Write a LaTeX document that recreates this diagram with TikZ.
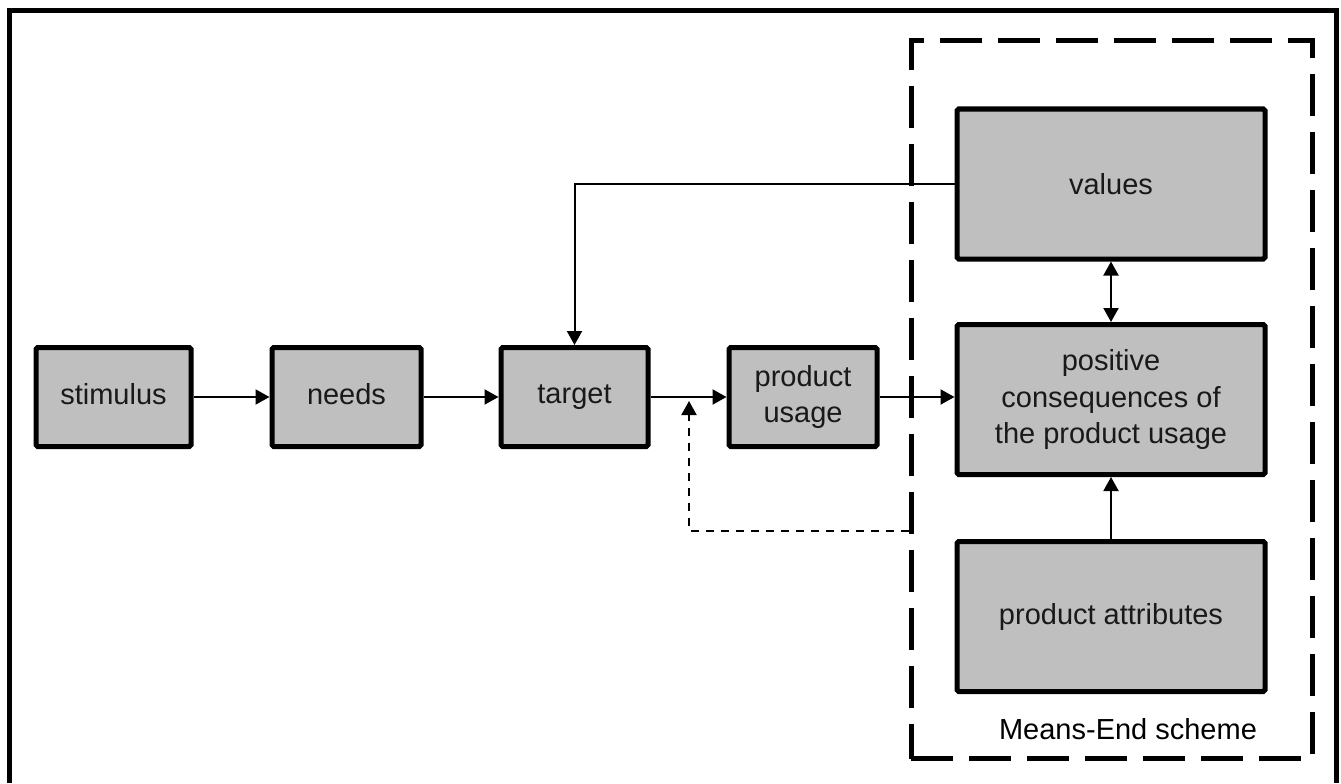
\documentclass[tikz,border=0pt]{standalone}
\usepackage{fontspec}
\setmainfont{Liberation Sans}
\usetikzlibrary{positioning}
\usetikzlibrary{arrows.meta}

\begin{document}
\begin{tikzpicture}[
    block/.style={draw=black, fill=black!25, line width=0.1cm, rounded corners=1pt,
      minimum height=1.98cm, align=center, text=black!90,
      font=\fontsize{16.5}{20.5}\selectfont},
    bigblock/.style={block, minimum width=6.16cm, minimum height=3cm},
    flow/.style={line width=0.04cm, -{Triangle[length=0.28cm, width=0.3cm]}},
  ]
  \useasboundingbox (0,0) rectangle (26.82,15.66);
  % frame, open at the bottom
  \draw[line width=0.1cm] (0.19,0) -- (0.19,15.45) -- (26.72,15.45) -- (26.72,0);

  % the chain on the left
  \foreach \name/\x/\w/\txt in {stim/2.27/3.1/{stimulus\vphantom{g}}, needs/6.93/2.98/{needs\vphantom{g}},
      target/11.49/2.94/target, usage/16.06/2.96/{product\\usage}} {
    \node[block, minimum width=\w cm] (\name) at (\x, 7.72) {\txt};
  }
  \foreach \a/\b in {stim/needs, needs/target, target/usage} {
    \draw[flow] (\a.east) -- (\b.west);
  }

  % means-end part
  \node[draw=black, line width=0.1cm, dash pattern=on 0.84cm off 0.32cm,
    minimum width=8.03cm, minimum height=14.36cm] (scheme) at (22.235, 7.67) {};
  \node[bigblock] (values) at (22.22, 11.98) {values};
  \node[bigblock] (positive) at (22.22, 7.67) {positive\\consequences of\\the product usage};
  \node[bigblock] (attr) at (22.22, 3.33) {product attributes};
  \node[anchor=base, font=\fontsize{16.5}{20.5}\selectfont] (melabel) at (22.56, 0.88) {Means-End scheme};

  \draw[flow] (usage.east) -- (usage.east -| positive.west);
  \draw[flow] (values.west) -| (target.north);
  \draw[flow, {Triangle[length=0.28cm, width=0.3cm]}-{Triangle[length=0.28cm, width=0.3cm]}] (values.south) -- (positive.north);
  \draw[flow] (attr.north) -- (positive.south);

  % feedback, dashed
  \coordinate (fbstart) at (scheme.west |- 0,5.04);
  \coordinate (fbend) at (13.78, 7.64);
  \draw[flow, dash pattern=on 0.16cm off 0.14cm] (fbstart) -| (fbend);
\end{tikzpicture}
\end{document}
